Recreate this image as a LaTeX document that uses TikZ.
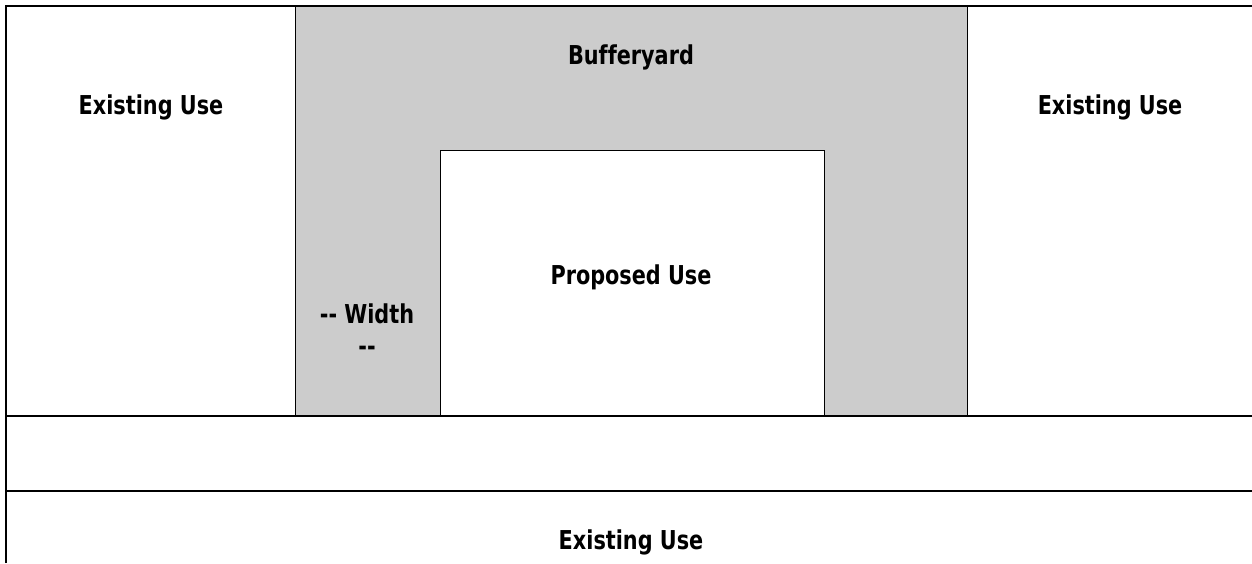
\documentclass[tikz,border=0pt]{standalone}
\usepackage{fontspec}
\setmainfont{DejaVu Sans}
\newfontfamily\lblfont[FakeStretch=0.8,Ligatures=NoCommon]{DejaVu Sans}
\begin{document}
\begin{tikzpicture}[x=1pt,y=-1pt,
  lbl/.style={font=\lblfont\fontsize{26}{32}\selectfont\bfseries, inner sep=0pt, anchor=base},
  thin line/.style={line width=1.2pt},
  thick line/.style={line width=2.5pt}]
\useasboundingbox (0,0) rectangle (1252,563);
% buffer yard (gray)
\node[fill={rgb,255:red,204;green,204;blue,204}, draw, thin line, minimum width=672pt, minimum height=410pt, inner sep=0pt, anchor=north west] (buffer) at (295,6) {};
% proposed use (white)
\node[fill=white, draw, thin line, minimum width=384pt, minimum height=266pt, inner sep=0pt, anchor=north west] (proposed) at (440,150) {};
% corner coordinates
\coordinate (tl) at (6,6);
\coordinate (tr) at (1252,6);
\coordinate (bl) at (6,563);
\coordinate (l1) at (6,416);
\coordinate (r1) at (1252,416);
\coordinate (l2) at (6,491);
\coordinate (r2) at (1252,491);
% lines
\draw[thin line] (l1) -- (r1);
\draw[thin line] (l2) -- (r2);
\draw[thick line] (bl) -- (tl) -- (tr);
% labels
\node[lbl] (eu1) at (151,114) {Existing Use};
\node[lbl] (eu2) at (1110,114) {Existing Use};
\node[lbl] (by) at (631,64) {Bufferyard};
\node[lbl] (pu) at (631,284) {Proposed Use};
\node[lbl] (w1) at (367,323) {-{}- Width};
\node[lbl] (w2) at (367,355) {-{}-};
\node[lbl] (eu3) at (631,549) {Existing Use};
\end{tikzpicture}
\end{document}
